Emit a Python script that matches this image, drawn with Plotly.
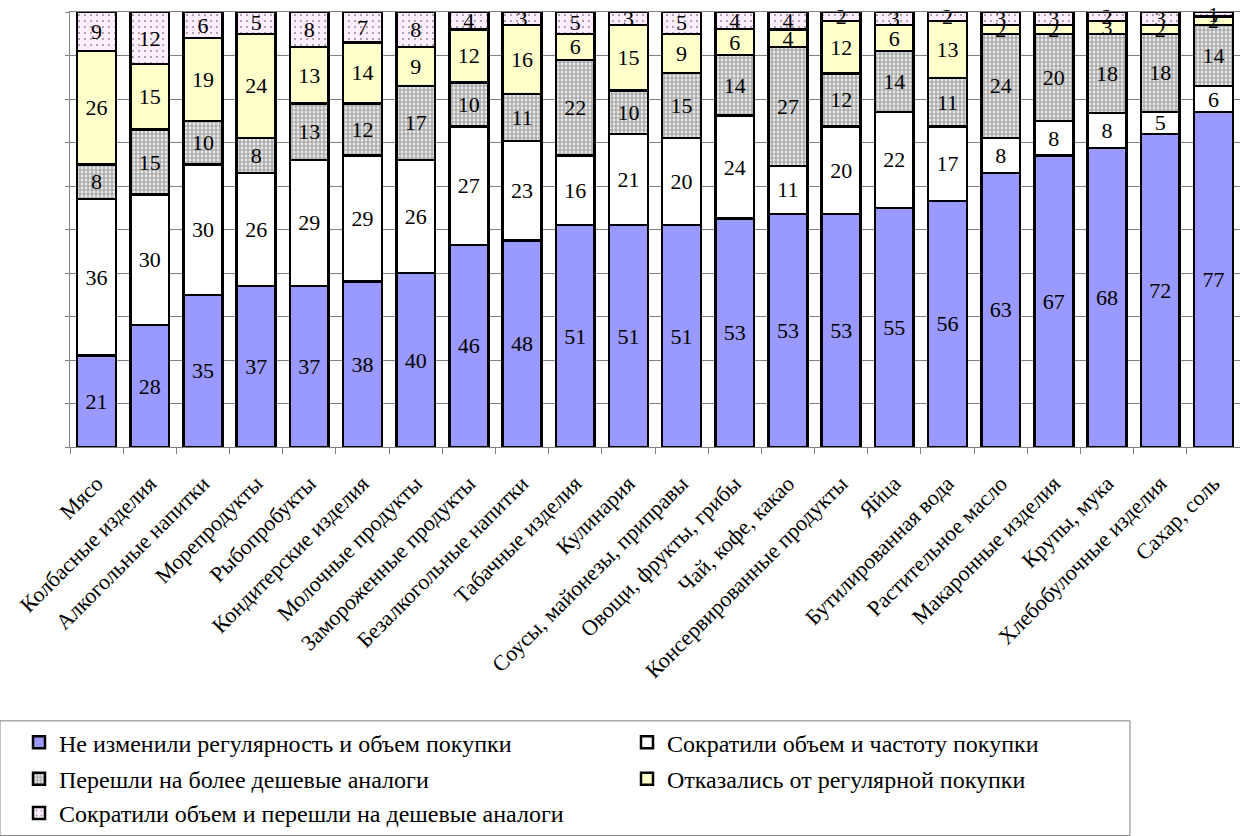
import plotly.graph_objects as go

categories = ["Мясо", "Колбасные изделия", "Алкогольные напитки", "Морепродукты",
              "Рыбопробукты", "Кондитерские изделия", "Молочные продукты",
              "Замороженные продукты", "Безалкогольные напитки", "Табачные изделия",
              "Кулинария", "Соусы, майонезы, приправы", "Овощи, фрукты, грибы",
              "Чай, кофе, какао", "Консервированные продукты", "Яйца",
              "Бутилированная вода", "Растительное масло", "Макаронные изделия",
              "Крупы, мука", "Хлебобулочные изделия", "Сахар, соль"]

no_change = [21, 28, 35, 37, 37, 38, 40, 46, 48, 51, 51, 51, 53, 53, 53, 55, 56, 63, 67, 68, 72, 77]
cut_volume_freq = [36, 30, 30, 26, 29, 29, 26, 27, 23, 16, 21, 20, 24, 11, 20, 22, 17, 8, 8, 8, 5, 6]
cheaper = [8, 15, 10, 8, 13, 12, 17, 10, 11, 22, 10, 15, 14, 27, 12, 14, 11, 24, 20, 18, 18, 14]
refused = [26, 15, 19, 24, 13, 14, 9, 12, 16, 6, 15, 9, 6, 4, 12, 6, 13, 2, 2, 3, 2, 2]
cut_and_cheaper = [9, 12, 6, 5, 8, 7, 8, 4, 3, 5, 3, 5, 4, 4, 2, 3, 2, 3, 3, 2, 3, 1]

series_names = ["Не изменили регулярность и объем покупки",
                "Сократили объем и частоту покупки",
                "Перешли на более дешевые аналоги",
                "Отказались от регулярной покупки",
                "Сократили объем и перешли на дешевые аналоги"]

FONT = "Liberation Serif, Times New Roman, DejaVu Serif, serif"

styles = [
    dict(color="#9999FF"),
    dict(color="#FFFFFF"),
    dict(color="#FFFFFF", pattern=dict(shape=".", fgcolor="#5A5A5A", bgcolor="#FFFFFF", size=4, solidity=0.7)),
    dict(color="#FFFFCC"),
    dict(color="#FFEEFF", pattern=dict(shape=".", fgcolor="#333333", bgcolor="#FFEEFF", size=6, solidity=0.1)),
]

PLOT_L, PLOT_W, PLOT_B, PLOT_H = 70, 1170, 452, 440

def px_x(p):
    return (p - PLOT_L) / PLOT_W

def px_y(p):
    return (PLOT_B - p) / PLOT_H

# legend slots: (text start x, row centre y)
legend_slots = [(60, 751), (668, 751), (60, 788), (668, 788), (60, 823)]
legend_keys = ["legend", "legend2", "legend3", "legend4", "legend5"]
TEXT_OFFSET = 41

fig = go.Figure()
for name, vals, st, lg in zip(series_names,
                              [no_change, cut_volume_freq, cheaper, refused, cut_and_cheaper],
                              styles, legend_keys):
    fig.add_trace(go.Bar(
        x=categories, y=vals, name=name, text=vals, showlegend=True,
        texttemplate="%{text}", textposition="inside", insidetextanchor="middle",
        textangle=0, constraintext="none", cliponaxis=False,
        textfont=dict(family=FONT, size=22, color="#000000"),
        marker=dict(line=dict(color="#000000", width=2.5), **st),
        legend=lg,
    ))

legend_layout = {}
for key, (tx, ty) in zip(legend_keys, legend_slots):
    legend_layout[key] = dict(
        orientation="h", x=px_x(tx - TEXT_OFFSET), xanchor="left",
        y=px_y(ty), yanchor="middle", bgcolor="rgba(0,0,0,0)", borderwidth=0,
        font=dict(family=FONT, size=24, color="#000000"))

fig.update_layout(
    width=1240, height=836,
    margin=dict(l=70, r=0, t=12, b=384),
    showlegend=True,
    barmode="stack", barnorm="percent", bargap=0.27,
    plot_bgcolor="#FFFFFF", paper_bgcolor="#FFFFFF",
    font=dict(family=FONT, size=22, color="#000000"),
    uniformtext=dict(minsize=22, mode="show"),
    xaxis=dict(tickangle=-45, showline=True, linecolor="#808080", linewidth=1,
               ticks="outside", ticklen=6, tickcolor="#808080", tickson="boundaries",
               ticklabelstandoff=14,
               mirror=True, showgrid=False,
               tickfont=dict(family=FONT, size=22, color="#000000")),
    yaxis=dict(range=[0, 100.001], tickvals=[0, 10, 20, 30, 40, 50, 60, 70, 80, 90, 100],
               showticklabels=False, showline=True,
               linecolor="#808080", linewidth=1, ticks="outside", ticklen=4,
               tickcolor="#808080", showgrid=True, gridcolor="#808080", gridwidth=1,
               mirror=True, zeroline=False, fixedrange=True),
    shapes=[dict(type="rect", xref="paper", yref="paper",
                 x0=px_x(0), x1=px_x(1130), y0=px_y(845), y1=px_y(729),
                 line=dict(color="#808080", width=1), fillcolor="rgba(0,0,0,0)")],
    **legend_layout,
)

fig.write_html("out.html")
